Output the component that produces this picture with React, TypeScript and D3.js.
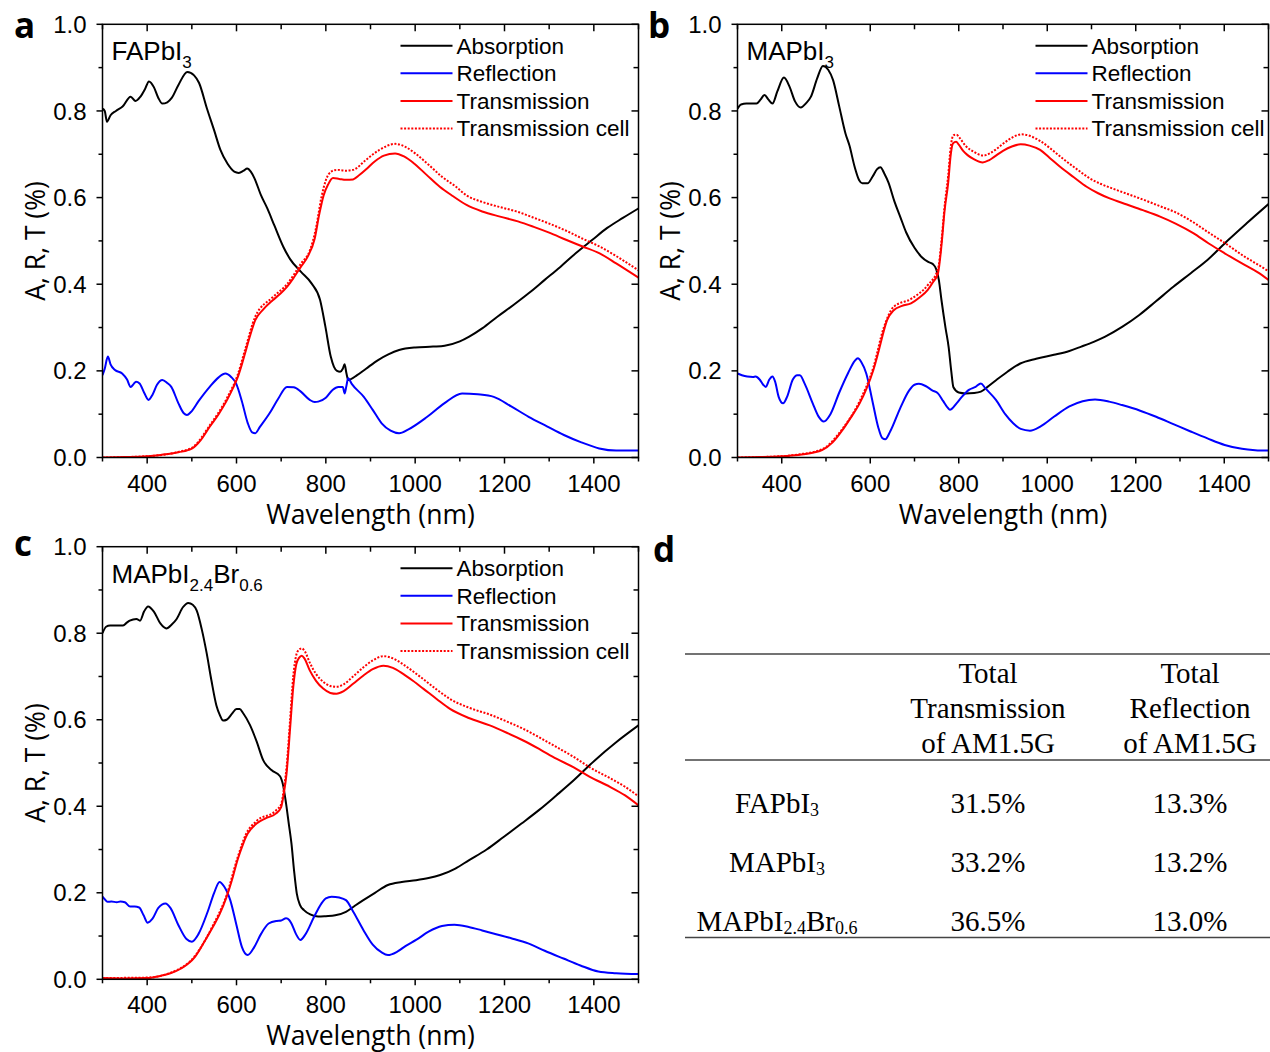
import React from 'react';
import * as d3 from 'd3';

type Pt = [number, number];
type Seg = [string, boolean];

// ---------- axis ticks / labels ----------
const wavelengthMajor = [400, 600, 800, 1000, 1200, 1400];
const wavelengthMinor = [300, 500, 700, 900, 1100, 1300, 1500];
const artMajor = [0, 0.2, 0.4, 0.6, 0.8, 1.0];
const artMinor = [0.1, 0.3, 0.5, 0.7, 0.9];
const legendLabels = ['Absorption', 'Reflection', 'Transmission', 'Transmission cell'];
const xTitle = 'Wavelength (nm)';
const yTitle = 'A, R, T (%)';

// ---------- panel a : FAPbI3 ----------
const faAbsorption: Pt[] = [[300,0.805],[305,0.8],[310,0.775],[318,0.79],[330,0.8],[345,0.81],[363,0.833],[374,0.823],[385,0.833],[395,0.85],[404,0.868],[415,0.855],[425,0.83],[434,0.817],[445,0.82],[455,0.83],[470,0.86],[490,0.89],[505,0.882],[516,0.865],[534,0.805],[550,0.755],[564,0.71],[580,0.678],[595,0.66],[605,0.657],[616,0.662],[624,0.667],[632,0.66],[640,0.645],[655,0.605],[669,0.575],[685,0.535],[705,0.486],[720,0.458],[744,0.429],[768,0.402],[787,0.364],[799,0.302],[811,0.233],[818,0.21],[825,0.2],[832,0.198],[838,0.205],[842,0.215],[846,0.195],[850,0.179],[870,0.19],[890,0.205],[917,0.225],[940,0.238],[964,0.248],[1000,0.254],[1040,0.256],[1066,0.258],[1100,0.268],[1121,0.279],[1150,0.298],[1184,0.325],[1220,0.352],[1254,0.379],[1290,0.41],[1325,0.44],[1360,0.472],[1396,0.502],[1430,0.53],[1465,0.553],[1500,0.575]];
const faReflection: Pt[] = [[300,0.19],[305,0.205],[312,0.233],[318,0.215],[328,0.202],[344,0.194],[355,0.18],[363,0.163],[370,0.17],[375,0.175],[383,0.171],[393,0.15],[403,0.133],[412,0.145],[422,0.168],[434,0.179],[445,0.172],[454,0.163],[470,0.125],[482,0.102],[489,0.098],[498,0.105],[515,0.13],[540,0.163],[560,0.185],[575,0.194],[588,0.186],[599,0.171],[612,0.13],[625,0.08],[635,0.058],[642,0.056],[652,0.07],[674,0.102],[693,0.135],[713,0.163],[728,0.162],[744,0.152],[764,0.133],[775,0.128],[783,0.129],[800,0.138],[815,0.156],[828,0.163],[838,0.163],[842,0.148],[846,0.165],[850,0.183],[858,0.17],[885,0.14],[905,0.11],[925,0.079],[945,0.062],[964,0.056],[985,0.065],[1027,0.094],[1065,0.125],[1105,0.148],[1140,0.146],[1176,0.14],[1215,0.118],[1254,0.094],[1295,0.072],[1333,0.052],[1372,0.035],[1412,0.021],[1450,0.016],[1500,0.016]];
const faTransmission: Pt[] = [[300,0.0],[350,0.001],[400,0.003],[430,0.006],[470,0.012],[501,0.021],[520,0.04],[540,0.071],[560,0.1],[579,0.133],[592,0.16],[603,0.186],[612,0.215],[619,0.24],[630,0.28],[642,0.317],[660,0.342],[681,0.363],[698,0.378],[713,0.394],[728,0.415],[744,0.44],[760,0.465],[775,0.505],[785,0.56],[795,0.605],[805,0.63],[816,0.645],[830,0.643],[845,0.641],[861,0.642],[875,0.652],[891,0.666],[910,0.684],[930,0.697],[955,0.702],[975,0.695],[996,0.68],[1025,0.653],[1055,0.625],[1085,0.603],[1115,0.583],[1150,0.568],[1190,0.556],[1230,0.545],[1264,0.533],[1300,0.519],[1339,0.502],[1375,0.487],[1413,0.471],[1450,0.448],[1500,0.415]];
const faTransmissionCell: Pt[] = [[300,0.0],[400,0.003],[470,0.013],[501,0.023],[540,0.074],[579,0.138],[603,0.192],[619,0.248],[642,0.325],[681,0.37],[713,0.4],[744,0.447],[765,0.48],[778,0.53],[790,0.6],[800,0.64],[812,0.66],[825,0.664],[845,0.662],[861,0.664],[891,0.688],[920,0.71],[955,0.724],[980,0.716],[1000,0.702],[1030,0.676],[1060,0.648],[1090,0.626],[1115,0.605],[1150,0.59],[1190,0.578],[1230,0.567],[1264,0.554],[1300,0.54],[1339,0.523],[1375,0.505],[1413,0.487],[1450,0.465],[1500,0.432]];

// ---------- panel b : MAPbI3 ----------
const maAbsorption: Pt[] = [[300,0.805],[308,0.815],[320,0.817],[343,0.817],[352,0.826],[361,0.837],[370,0.826],[379,0.817],[390,0.845],[405,0.877],[418,0.855],[430,0.822],[443,0.808],[455,0.818],[466,0.833],[480,0.875],[493,0.904],[505,0.895],[516,0.871],[530,0.81],[544,0.748],[553,0.72],[565,0.67],[575,0.64],[582,0.633],[594,0.633],[605,0.648],[615,0.665],[623,0.67],[632,0.655],[641,0.635],[655,0.59],[668,0.555],[681,0.52],[700,0.484],[716,0.463],[730,0.452],[742,0.446],[749,0.435],[755,0.41],[761,0.363],[770,0.3],[777,0.256],[783,0.2],[788,0.162],[800,0.15],[815,0.148],[835,0.149],[850,0.152],[865,0.163],[885,0.179],[910,0.198],[939,0.217],[975,0.228],[1015,0.237],[1050,0.246],[1077,0.256],[1105,0.267],[1131,0.279],[1170,0.302],[1208,0.329],[1245,0.36],[1285,0.394],[1325,0.426],[1362,0.456],[1409,0.502],[1450,0.54],[1500,0.585]];
const maReflection: Pt[] = [[300,0.194],[310,0.19],[322,0.187],[335,0.186],[341,0.187],[350,0.18],[358,0.168],[364,0.163],[372,0.18],[379,0.187],[385,0.175],[393,0.14],[403,0.125],[412,0.14],[425,0.18],[435,0.19],[441,0.19],[452,0.17],[470,0.125],[483,0.095],[495,0.083],[510,0.1],[530,0.15],[550,0.195],[565,0.223],[572,0.229],[580,0.22],[591,0.194],[605,0.13],[618,0.07],[627,0.045],[634,0.042],[645,0.06],[669,0.117],[688,0.155],[700,0.168],[710,0.17],[725,0.165],[740,0.155],[753,0.148],[765,0.13],[775,0.115],[780,0.11],[795,0.125],[807,0.14],[823,0.156],[838,0.163],[850,0.171],[860,0.16],[884,0.133],[905,0.1],[923,0.079],[940,0.066],[961,0.062],[985,0.072],[1015,0.094],[1050,0.118],[1080,0.13],[1108,0.134],[1140,0.129],[1169,0.121],[1210,0.108],[1246,0.094],[1285,0.077],[1324,0.06],[1362,0.044],[1401,0.029],[1440,0.02],[1470,0.017],[1500,0.016]];
const maTransmission: Pt[] = [[300,0.0],[350,0.001],[400,0.003],[437,0.006],[470,0.011],[491,0.017],[515,0.035],[537,0.063],[556,0.092],[576,0.125],[592,0.16],[607,0.202],[620,0.25],[630,0.29],[638,0.317],[653,0.34],[672,0.35],[692,0.356],[712,0.37],[730,0.387],[742,0.405],[753,0.425],[761,0.49],[768,0.57],[776,0.633],[782,0.7],[787,0.725],[794,0.729],[800,0.722],[810,0.708],[820,0.698],[835,0.688],[854,0.681],[868,0.686],[880,0.694],[900,0.708],[920,0.718],[940,0.723],[960,0.72],[984,0.71],[1005,0.692],[1029,0.671],[1060,0.647],[1089,0.625],[1115,0.61],[1141,0.598],[1180,0.584],[1216,0.571],[1255,0.556],[1290,0.54],[1330,0.518],[1365,0.494],[1400,0.472],[1447,0.444],[1475,0.428],[1500,0.41]];
const maTransmissionCell: Pt[] = [[300,0.0],[400,0.003],[437,0.007],[491,0.019],[537,0.066],[576,0.13],[607,0.208],[630,0.298],[653,0.348],[692,0.366],[730,0.398],[753,0.435],[761,0.5],[768,0.58],[776,0.65],[782,0.718],[788,0.744],[795,0.745],[802,0.738],[815,0.72],[835,0.705],[855,0.697],[870,0.702],[885,0.712],[905,0.728],[925,0.741],[942,0.746],[962,0.742],[985,0.73],[1010,0.711],[1035,0.69],[1065,0.667],[1095,0.645],[1120,0.632],[1150,0.62],[1185,0.607],[1220,0.594],[1255,0.58],[1290,0.566],[1330,0.543],[1365,0.519],[1400,0.496],[1447,0.463],[1475,0.446],[1500,0.43]];

// ---------- panel c : MAPbI2.4Br0.6 ----------
const mbAbsorption: Pt[] = [[300,0.8],[308,0.815],[317,0.818],[346,0.818],[355,0.825],[361,0.829],[376,0.833],[384,0.829],[393,0.85],[402,0.862],[415,0.85],[430,0.822],[443,0.811],[455,0.82],[466,0.833],[480,0.86],[492,0.87],[502,0.866],[511,0.852],[522,0.81],[533,0.755],[544,0.69],[555,0.633],[563,0.61],[570,0.598],[578,0.6],[590,0.614],[600,0.625],[607,0.625],[615,0.615],[630,0.588],[645,0.55],[660,0.506],[679,0.483],[697,0.47],[704,0.45],[711,0.406],[717,0.36],[723,0.314],[729,0.25],[735,0.198],[742,0.172],[751,0.16],[765,0.15],[783,0.145],[800,0.146],[821,0.148],[845,0.156],[865,0.17],[884,0.183],[910,0.2],[939,0.218],[970,0.225],[1002,0.229],[1030,0.234],[1056,0.241],[1090,0.256],[1120,0.275],[1160,0.3],[1198,0.329],[1238,0.36],[1277,0.391],[1316,0.425],[1355,0.46],[1402,0.506],[1450,0.548],[1500,0.587]];
const mbReflection: Pt[] = [[300,0.191],[305,0.185],[311,0.179],[320,0.18],[332,0.178],[340,0.18],[350,0.178],[362,0.168],[372,0.168],[382,0.166],[392,0.148],[401,0.131],[412,0.14],[425,0.165],[441,0.175],[452,0.165],[470,0.125],[488,0.093],[500,0.087],[515,0.105],[535,0.155],[550,0.2],[562,0.225],[572,0.215],[586,0.183],[600,0.125],[612,0.075],[625,0.056],[640,0.075],[655,0.105],[672,0.129],[690,0.135],[700,0.136],[711,0.141],[718,0.137],[723,0.129],[733,0.105],[743,0.091],[755,0.105],[774,0.145],[790,0.175],[800,0.187],[813,0.191],[830,0.189],[845,0.183],[862,0.155],[884,0.114],[905,0.08],[925,0.062],[939,0.056],[960,0.064],[980,0.078],[1002,0.091],[1030,0.11],[1060,0.123],[1088,0.126],[1120,0.121],[1150,0.113],[1175,0.106],[1215,0.095],[1253,0.083],[1290,0.066],[1332,0.048],[1370,0.032],[1410,0.018],[1450,0.014],[1500,0.012]];
const mbTransmission: Pt[] = [[300,0.003],[350,0.002],[400,0.003],[430,0.008],[452,0.014],[476,0.025],[507,0.052],[527,0.085],[547,0.121],[562,0.15],[578,0.191],[590,0.23],[602,0.275],[612,0.305],[621,0.329],[633,0.348],[645,0.36],[665,0.372],[688,0.383],[700,0.398],[706,0.43],[712,0.475],[720,0.58],[727,0.675],[734,0.729],[740,0.743],[746,0.748],[752,0.742],[764,0.714],[778,0.69],[794,0.672],[810,0.662],[824,0.66],[840,0.666],[861,0.683],[885,0.703],[905,0.717],[929,0.725],[950,0.72],[973,0.706],[995,0.69],[1018,0.672],[1048,0.648],[1078,0.625],[1120,0.604],[1167,0.587],[1205,0.57],[1242,0.552],[1280,0.531],[1316,0.51],[1355,0.49],[1391,0.468],[1436,0.445],[1470,0.425],[1500,0.402]];
const mbTransmissionCell: Pt[] = [[300,0.003],[400,0.004],[452,0.015],[507,0.054],[547,0.124],[578,0.195],[602,0.28],[621,0.335],[645,0.366],[688,0.39],[700,0.405],[706,0.44],[712,0.49],[720,0.6],[727,0.7],[734,0.75],[740,0.762],[746,0.765],[753,0.758],[764,0.732],[778,0.706],[794,0.688],[810,0.678],[824,0.676],[840,0.682],[861,0.7],[885,0.722],[905,0.737],[929,0.747],[950,0.742],[973,0.728],[995,0.712],[1018,0.694],[1048,0.67],[1078,0.648],[1120,0.628],[1167,0.612],[1205,0.596],[1242,0.579],[1280,0.558],[1316,0.537],[1355,0.514],[1391,0.49],[1436,0.465],[1470,0.445],[1500,0.423]];

// ---------- table d ----------
const tableHeaderTransmission = ['Total', 'Transmission', 'of AM1.5G'];
const tableHeaderReflection = ['Total', 'Reflection', 'of AM1.5G'];
const faName: Seg[] = [['FAPbI', false], ['3', true]];
const maName: Seg[] = [['MAPbI', false], ['3', true]];
const mbName: Seg[] = [['MAPbI', false], ['2.4', true], ['Br', false], ['0.6', true]];
const tableMaterials: Seg[][] = [faName, maName, mbName];
const totalTransmission = ['31.5%', '33.2%', '36.5%'];
const totalReflection = ['13.3%', '13.2%', '13.0%'];

const SANS = 'Liberation Sans, Arial, sans-serif';
const TITLE = 'Open Sans, Liberation Sans, sans-serif';
const SERIF = 'Liberation Serif, Times New Roman, serif';

const seriesStyles = [
  { color: '#000000', dash: undefined as string | undefined },
  { color: '#0000ff', dash: undefined },
  { color: '#ff0000', dash: undefined },
  { color: '#ff0000', dash: '2 1.6' },
];

function SegText({ segs, x, y, size, subSize, subShift, anchor, family }:
  { segs: Seg[]; x: number; y: number; size: number; subSize: number; subShift: number; anchor?: string; family: string }) {
  let cur = 0;
  return (
    <text x={x} y={y} fontSize={size} fontFamily={family} textAnchor={anchor || 'start'} fill="#000">
      {segs.map(([t, sub], i) => {
        const target = sub ? subShift : 0;
        const dy = target - cur;
        cur = target;
        return (
          <tspan key={i} dy={dy} fontSize={sub ? subSize : size}>{t}</tspan>
        );
      })}
    </text>
  );
}

function Panel({ id, x0, x1, top, bottom, letter, letterX, letterY, sample, series }:
  { id: string; x0: number; x1: number; top: number; bottom: number; letter: string; letterX: number; letterY: number; sample: Seg[]; series: Pt[][] }) {
  const xs = d3.scaleLinear().domain([300, 1500]).range([x0, x1]);
  const ys = d3.scaleLinear().domain([0, 1]).range([bottom, top]);
  const line = d3.line<Pt>().x(d => xs(d[0])).y(d => ys(d[1])).curve(d3.curveMonotoneX);
  const fmt = d3.format('.1f');
  const cx = (x0 + x1) / 2;
  const cy = (top + bottom) / 2;
  const legX = x0 + 298;
  const legRows = [21.5, 49, 76.7, 104.3];
  return (
    <g>
      <defs>
        <clipPath id={`clip-${id}`}>
          <rect x={x0} y={top} width={x1 - x0} height={bottom - top} />
        </clipPath>
      </defs>
      <g clipPath={`url(#clip-${id})`}>
        {series.map((s, i) => (
          <path key={i} d={line(s) || ''} fill="none" stroke={seriesStyles[i].color}
            strokeWidth={2} strokeDasharray={seriesStyles[i].dash} strokeLinejoin="round" />
        ))}
      </g>
      <rect x={x0} y={top} width={x1 - x0} height={bottom - top} fill="none" stroke="#000" strokeWidth={1.5} />
      {wavelengthMajor.map(t => (
        <g key={`xM${t}`}>
          <line x1={xs(t)} x2={xs(t)} y1={bottom} y2={bottom + 6} stroke="#000" strokeWidth={1.5} />
          <line x1={xs(t)} x2={xs(t)} y1={top} y2={top + 7} stroke="#000" strokeWidth={1.5} />
          <text x={xs(t)} y={bottom + 34} fontSize={24} fontFamily={SANS} textAnchor="middle">{t}</text>
        </g>
      ))}
      {wavelengthMinor.map(t => (
        <g key={`xm${t}`}>
          <line x1={xs(t)} x2={xs(t)} y1={bottom} y2={bottom + 4} stroke="#000" strokeWidth={1.5} />
          <line x1={xs(t)} x2={xs(t)} y1={top} y2={top + 5} stroke="#000" strokeWidth={1.5} />
        </g>
      ))}
      {artMajor.map(t => (
        <g key={`yM${t}`}>
          <line x1={x0 - 6} x2={x0} y1={ys(t)} y2={ys(t)} stroke="#000" strokeWidth={1.5} />
          <line x1={x1 - 7} x2={x1} y1={ys(t)} y2={ys(t)} stroke="#000" strokeWidth={1.5} />
          <text x={x0 - 16} y={ys(t) + 8.6} fontSize={24} fontFamily={SANS} textAnchor="end">{fmt(t)}</text>
        </g>
      ))}
      {artMinor.map(t => (
        <g key={`ym${t}`}>
          <line x1={x0 - 4} x2={x0} y1={ys(t)} y2={ys(t)} stroke="#000" strokeWidth={1.5} />
          <line x1={x1 - 5} x2={x1} y1={ys(t)} y2={ys(t)} stroke="#000" strokeWidth={1.5} />
        </g>
      ))}
      <text x={cx} y={bottom + 66} fontSize={26.5} fontFamily={TITLE} textAnchor="middle">{xTitle}</text>
      <text transform={`translate(${x0 - 58},${cy}) rotate(-90)`} fontSize={26.5} fontFamily={TITLE} textAnchor="middle">{yTitle}</text>
      <SegText segs={sample} x={x0 + 9} y={top + 36} size={26} subSize={17} subShift={8} family={SANS} />
      {legendLabels.map((lab, i) => (
        <g key={lab}>
          <line x1={legX} x2={legX + 52} y1={top + legRows[i]} y2={top + legRows[i]}
            stroke={seriesStyles[i].color} strokeWidth={2} strokeDasharray={seriesStyles[i].dash} />
          <text x={legX + 56} y={top + legRows[i] + 7.8} fontSize={22.5} fontFamily={SANS}>{lab}</text>
        </g>
      ))}
      <text x={letterX} y={letterY} fontSize={35} fontWeight="bold" fontFamily={TITLE}>{letter}</text>
    </g>
  );
}

function Table() {
  const tx = 988;
  const rx = 1190;
  const nx = 777;
  const headY = [683, 718, 752.5];
  const rowY = [813, 872, 931];
  return (
    <g fontFamily={SERIF} fontSize={29}>
      <text x={653} y={562} fontSize={35} fontWeight="bold" fontFamily={TITLE}>d</text>
      <line x1={685} x2={1270} y1={654} y2={654} stroke="#444" strokeWidth={1.6} />
      <line x1={685} x2={1270} y1={760} y2={760} stroke="#444" strokeWidth={1.6} />
      <line x1={685} x2={1270} y1={937.5} y2={937.5} stroke="#444" strokeWidth={1.6} />
      {tableHeaderTransmission.map((t, i) => (
        <text key={`ht${i}`} x={tx} y={headY[i]} textAnchor="middle">{t}</text>
      ))}
      {tableHeaderReflection.map((t, i) => (
        <text key={`hr${i}`} x={rx} y={headY[i]} textAnchor="middle">{t}</text>
      ))}
      {tableMaterials.map((segs, i) => (
        <g key={`r${i}`}>
          <SegText segs={segs} x={nx} y={rowY[i]} size={29} subSize={18} subShift={3} anchor="middle" family={SERIF} />
          <text x={tx} y={rowY[i]} textAnchor="middle">{totalTransmission[i]}</text>
          <text x={rx} y={rowY[i]} textAnchor="middle">{totalReflection[i]}</text>
        </g>
      ))}
    </g>
  );
}

export default function App() {
  return (
    <div style={{ position: 'absolute', left: 0, top: 0, background: '#fff' }}>
      <svg width={1270} height={1052} viewBox="0 0 1270 1052" style={{ display: 'block', background: '#fff' }}>
        <Panel id="a" x0={102.5} x1={638.5} top={24.3} bottom={457.5} letter="a" letterX={14} letterY={38}
          sample={faName} series={[faAbsorption, faReflection, faTransmission, faTransmissionCell]} />
        <Panel id="b" x0={737.5} x1={1268.5} top={24.3} bottom={457.5} letter="b" letterX={648} letterY={38}
          sample={maName} series={[maAbsorption, maReflection, maTransmission, maTransmissionCell]} />
        <Panel id="c" x0={102.5} x1={638.5} top={546.7} bottom={979.3} letter="c" letterX={14} letterY={556}
          sample={mbName} series={[mbAbsorption, mbReflection, mbTransmission, mbTransmissionCell]} />
        <Table />
      </svg>
    </div>
  );
}
